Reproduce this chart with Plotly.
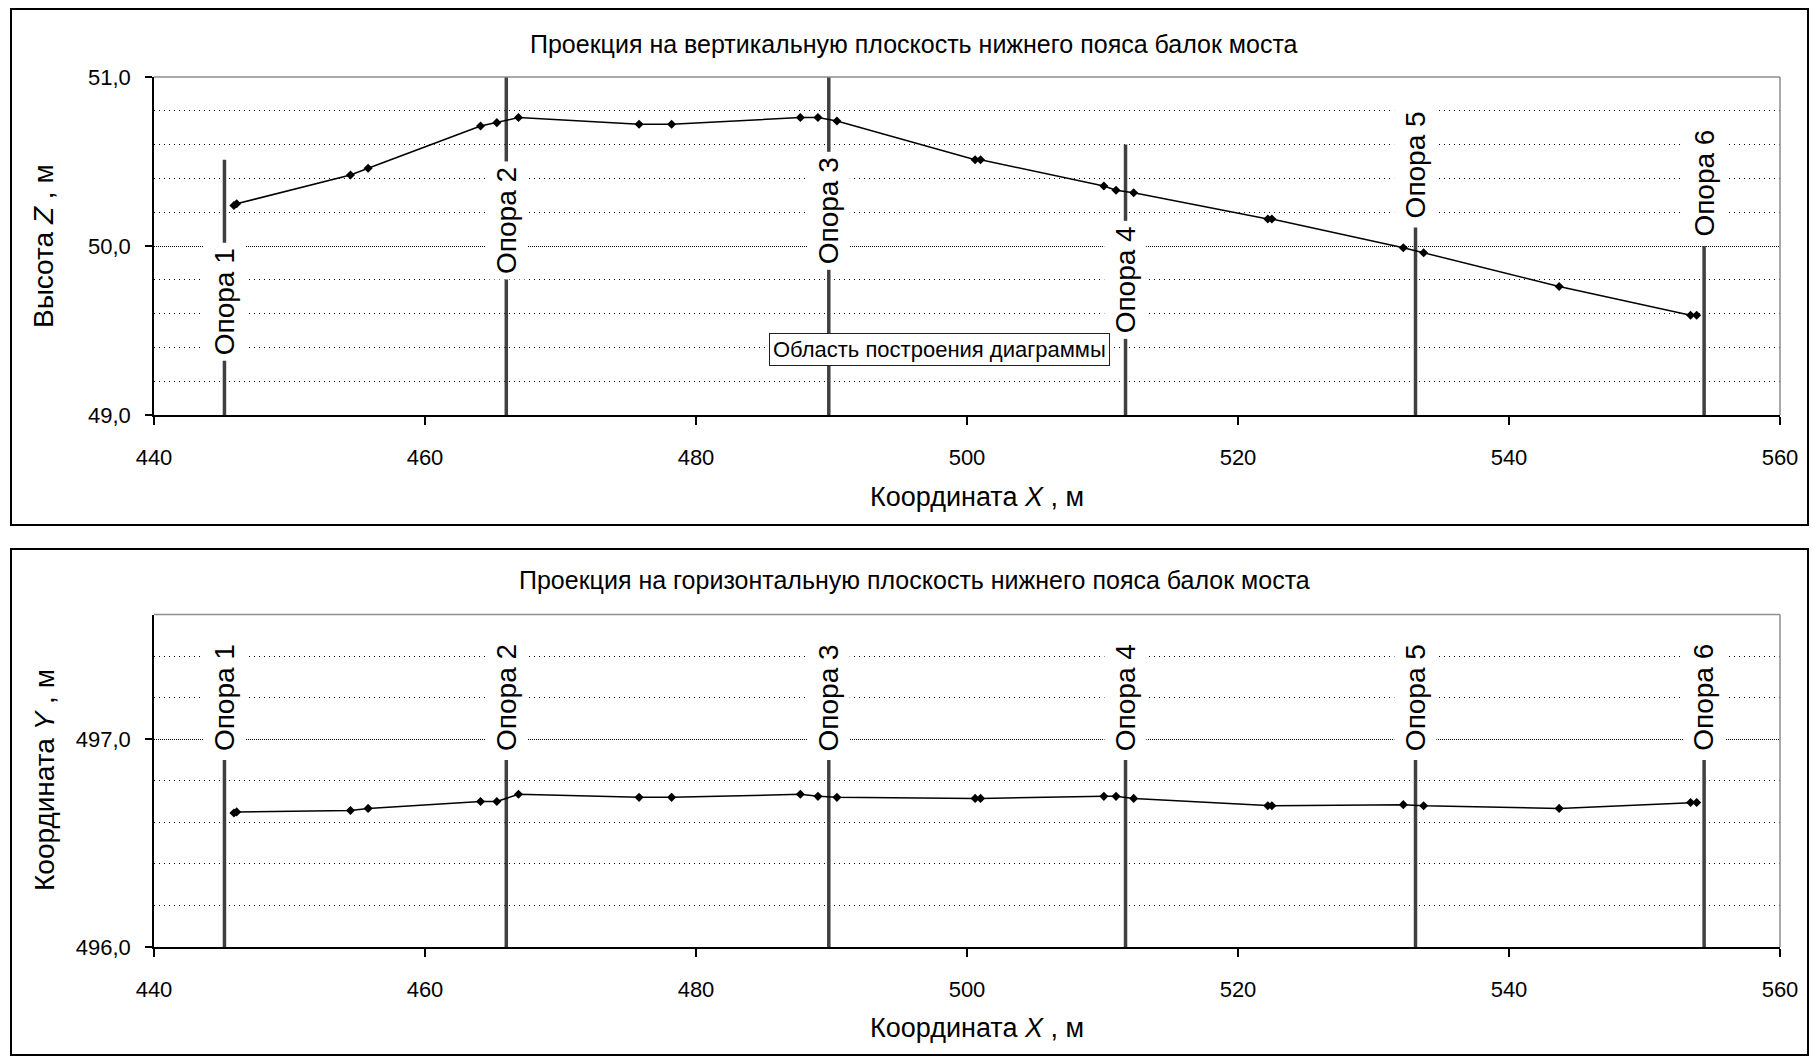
import plotly.graph_objects as go

# Survey stations along the bottom chord (X, m)
station_x = [445.9, 446.1, 454.5, 455.8, 464.1, 465.3, 466.9, 475.8, 478.2,
             487.7, 489.0, 490.4, 500.6, 501.0, 510.1, 511.0, 512.3,
             522.2, 522.5, 532.2, 533.7, 543.7, 553.4, 553.85]
# Elevation of the bottom chord at each station (Z, m)
chord_z = [50.24, 50.25, 50.42, 50.46, 50.71, 50.73, 50.76, 50.72, 50.72,
           50.76, 50.76, 50.74, 50.51, 50.51, 50.355, 50.33, 50.315,
           50.16, 50.16, 49.99, 49.96, 49.76, 49.59, 49.59]
# Plan position of the bottom chord at each station (Y, m)
chord_y = [496.645, 496.65, 496.657, 496.667, 496.70, 496.70, 496.735, 496.72, 496.72,
           496.735, 496.725, 496.72, 496.715, 496.715, 496.725, 496.725, 496.715,
           496.68, 496.68, 496.685, 496.68, 496.667, 496.695, 496.695]

# Piers
pier_names = ["Опора 1", "Опора 2", "Опора 3", "Опора 4", "Опора 5", "Опора 6"]
pier_x = [445.2, 466.0, 489.8, 511.7, 533.1, 554.4]
pier_top_z = [50.51, 51.0, 51.0, 50.60, 50.11, 50.0]
pier_label_z = [49.67, 50.15, 50.21, 49.80, 50.48, 50.37]
pier_top_y = [496.9, 496.9, 496.9, 496.9, 496.9, 496.9]
pier_label_y = [497.2, 497.2, 497.2, 497.2, 497.2, 497.2]

x_range = [440, 560]
z_range = [49.0, 51.0]
y_range = [496.0, 497.6]

W, H = 1811, 1056
FONT = "Liberation Sans, Arial, sans-serif"
PIER_COLOR = "#404040"


def px_x(p):
    return p / W


def px_y(p):
    return 1 - p / H


fig = go.Figure()


def pier_segments(xs, bottom, tops):
    sx, sy = [], []
    for xv, top in zip(xs, tops):
        sx += [xv, xv, None]
        sy += [bottom, top, None]
    return sx, sy


# --- vertical projection ---
sx, sy = pier_segments(pier_x, z_range[0], pier_top_z)
fig.add_trace(go.Scatter(x=sx, y=sy, mode="lines", xaxis="x", yaxis="y",
                         line=dict(color=PIER_COLOR, width=3.5), hoverinfo="skip"))
fig.add_trace(go.Scatter(x=station_x, y=chord_z, mode="lines+markers", xaxis="x", yaxis="y",
                         line=dict(color="black", width=1.5),
                         marker=dict(symbol="diamond", size=7, color="black")))

# --- horizontal projection ---
sx, sy = pier_segments(pier_x, y_range[0], pier_top_y)
fig.add_trace(go.Scatter(x=sx, y=sy, mode="lines", xaxis="x2", yaxis="y2",
                         line=dict(color=PIER_COLOR, width=3.5), hoverinfo="skip"))
fig.add_trace(go.Scatter(x=station_x, y=chord_y, mode="lines+markers", xaxis="x2", yaxis="y2",
                         line=dict(color="black", width=1.5),
                         marker=dict(symbol="diamond", size=7, color="black")))

tick_font = dict(family=FONT, size=22, color="black")

x_common = dict(range=x_range, dtick=20, ticks="outside", ticklen=8, tickwidth=1.5,
                tickcolor="black", showline=True, linecolor="black", linewidth=1.5,
                showgrid=False, zeroline=False, tickfont=tick_font,
                ticklabelstandoff=14, fixedrange=True, automargin=False)
y_common = dict(dtick=1, tickformat=".1f", ticks="outside", ticklen=7, tickwidth=1.5,
                tickcolor="black", showline=True, linecolor="black", linewidth=1.5,
                showgrid=True, gridcolor="black", gridwidth=1, griddash="1px,1px",
                zeroline=False, tickfont=tick_font, ticklabelstandoff=10,
                minor=dict(dtick=0.2, showgrid=True, gridcolor="black", gridwidth=1,
                           griddash="1px,4px", ticks=""),
                fixedrange=True, automargin=False)

top_dom_x = [px_x(154), px_x(1780)]
top_dom_y = [px_y(415), px_y(77)]
bot_dom_y = [px_y(947), px_y(614.5)]

fig.update_layout(
    width=W, height=H, margin=dict(l=0, r=0, t=0, b=0, pad=0, autoexpand=False),
    paper_bgcolor="white", plot_bgcolor="white",
    showlegend=False, separators=", ",
    font=dict(family=FONT, color="black"),
    xaxis=dict(domain=top_dom_x, anchor="y", **x_common),
    yaxis=dict(domain=top_dom_y, anchor="x", range=z_range, **y_common),
    xaxis2=dict(domain=top_dom_x, anchor="y2", **x_common),
    yaxis2=dict(domain=bot_dom_y, anchor="x2", range=y_range, **y_common),
)

shapes = []
# chart panel frames
shapes.append(dict(type="rect", xref="paper", yref="paper",
                   x0=px_x(11), x1=px_x(1808), y0=px_y(525), y1=px_y(9),
                   line=dict(color="black", width=2), layer="below"))
shapes.append(dict(type="rect", xref="paper", yref="paper",
                   x0=px_x(11), x1=px_x(1808), y0=px_y(1055), y1=px_y(549),
                   line=dict(color="black", width=2), layer="below"))
# grey top and right edges of each plot area
for dom_y in (top_dom_y, bot_dom_y):
    shapes.append(dict(type="line", xref="paper", yref="paper",
                       x0=top_dom_x[0], x1=top_dom_x[1], y0=dom_y[1], y1=dom_y[1],
                       line=dict(color="#8c8c8c", width=1.5), layer="above"))
    shapes.append(dict(type="line", xref="paper", yref="paper",
                       x0=top_dom_x[1], x1=top_dom_x[1], y0=dom_y[0], y1=dom_y[1],
                       line=dict(color="#8c8c8c", width=1.5), layer="above"))
fig.update_layout(shapes=shapes)

ann = []
label_font = dict(family=FONT, size=28, color="black")
for name, xv, zv in zip(pier_names, pier_x, pier_label_z):
    ann.append(dict(text=name, x=xv, y=zv, xref="x", yref="y", showarrow=False,
                    xanchor="center", yanchor="middle",
                    textangle=-90, bgcolor="white", borderpad=5, font=label_font))
for name, xv, yv in zip(pier_names, pier_x, pier_label_y):
    ann.append(dict(text=name, x=xv, y=yv, xref="x2", yref="y2", showarrow=False,
                    xanchor="center", yanchor="middle",
                    textangle=-90, bgcolor="white", borderpad=5, font=label_font))


def paper_text(text, x, y, size, angle=0):
    return dict(text=text, x=px_x(x), y=px_y(y), xref="paper", yref="paper",
                showarrow=False, xanchor="center", yanchor="middle",
                textangle=angle, font=dict(family=FONT, size=size, color="black"))


ann.append(paper_text("Проекция на вертикальную плоскость нижнего пояса балок моста", 914, 44, 25))
ann.append(paper_text("Проекция на горизонтальную плоскость нижнего пояса балок моста", 914, 580, 25))
ann.append(paper_text("Координата <i>X</i> , м", 977, 497, 27))
ann.append(paper_text("Координата <i>X</i> , м", 977, 1028, 27))
ann.append(paper_text("Высота <i>Z</i> , м", 44, 246, 28, -90))
ann.append(paper_text("Координата <i>Y</i> , м", 44, 780, 28, -90))
# hover hint box over the plot area
ann.append(dict(text="Область построения диаграммы", x=498.0, y=49.385, xref="x", yref="y",
                showarrow=False, xanchor="center", yanchor="middle",
                bgcolor="white", bordercolor="#202020", borderwidth=1,
                borderpad=3, font=dict(family=FONT, size=22, color="black")))
fig.update_layout(annotations=ann)

fig.write_html("out.html")
